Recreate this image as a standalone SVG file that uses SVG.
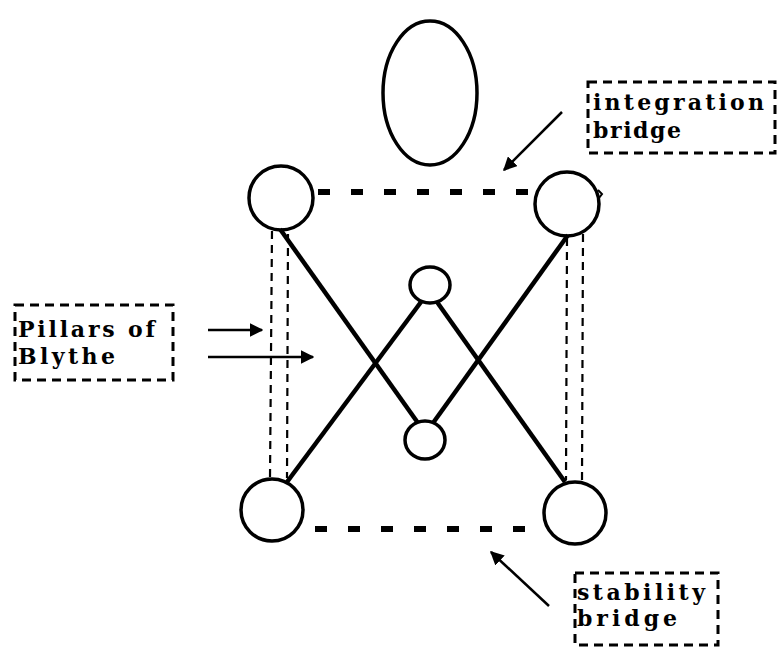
<svg xmlns="http://www.w3.org/2000/svg" width="783" height="649" viewBox="0 0 783 649">
<defs>
<style>
.node{fill:none;stroke:#000;stroke-width:3.5}
.bar{stroke:#000;stroke-width:4.5;fill:none}
.bridge{stroke:#000;stroke-width:6;stroke-dasharray:12 21;fill:none}
.pillar{stroke:#000;stroke-width:2.2;stroke-dasharray:8 6;fill:none}
.box{fill:none;stroke:#000;stroke-width:3;stroke-dasharray:9 6}
.arrow{stroke:#000;stroke-width:2.5;fill:none}
.lbl{font-family:"DejaVu Serif","Liberation Serif",serif;font-size:22px;font-weight:bold;fill:#000}
</style>
<marker id="ah" viewBox="0 0 10 10" refX="9" refY="5" markerWidth="5.5" markerHeight="5.5" markerUnits="strokeWidth" orient="auto">
<path d="M0,0 L10,5 L0,10 z" fill="#000"/>
</marker>
</defs>
<rect width="783" height="649" fill="#fff"/>
<g id="connectors">
<line class="bridge" x1="318" y1="192" x2="532" y2="192"/>
<line class="bridge" x1="315" y1="529" x2="530" y2="529"/>
<line class="pillar" x1="272" y1="231" x2="270" y2="478"/>
<line class="pillar" x1="288" y1="234" x2="287" y2="478"/>
<line class="pillar" x1="567" y1="238" x2="566" y2="480"/>
<line class="pillar" x1="583" y1="234" x2="582" y2="480"/>
<line class="bar" x1="280" y1="229" x2="418" y2="423"/>
<line class="bar" x1="287" y1="482" x2="421" y2="302"/>
<line class="bar" x1="568" y1="235" x2="433" y2="423"/>
<line class="bar" x1="437" y1="302" x2="565" y2="482"/>
<line class="arrow" x1="562" y1="112" x2="504" y2="170" marker-end="url(#ah)"/>
<line class="arrow" x1="549" y1="606" x2="491" y2="552" marker-end="url(#ah)"/>
<line class="arrow" x1="208" y1="330" x2="262" y2="330" marker-end="url(#ah)"/>
<line class="arrow" x1="208" y1="357" x2="313" y2="357" marker-end="url(#ah)"/>
<path d="M598,190 L602,194 L599,198" stroke="#000" stroke-width="2" fill="none"/>
</g>
<g id="head"><ellipse class="node" cx="430" cy="93" rx="47" ry="72"/></g>
<g id="tl"><circle class="node" cx="281" cy="198" r="32"/></g>
<g id="tr"><circle class="node" cx="567" cy="204" r="32"/></g>
<g id="bl"><circle class="node" cx="272" cy="510" r="31"/></g>
<g id="br"><circle class="node" cx="575" cy="513" r="31"/></g>
<g id="top-small"><ellipse class="node" cx="430" cy="285" rx="20" ry="18"/></g>
<g id="bottom-small"><ellipse class="node" cx="425" cy="440" rx="20" ry="19"/></g>
<g id="integration-bridge">
<rect class="box" x="588" y="82" width="187" height="71"/>
<text class="lbl" x="593" y="110" textLength="171" lengthAdjust="spacing">integration</text>
<text class="lbl" x="593" y="138" textLength="88" lengthAdjust="spacing">bridge</text>
</g>
<g id="pillars-of-blythe">
<rect class="box" x="15" y="305" width="158" height="75"/>
<text class="lbl" x="18" y="337" textLength="137" lengthAdjust="spacing">Pillars  of</text>
<text class="lbl" x="18" y="364" textLength="97" lengthAdjust="spacing">Blythe</text>
</g>
<g id="stability-bridge">
<rect class="box" x="575" y="573" width="143" height="72"/>
<text class="lbl" x="577" y="600" textLength="128" lengthAdjust="spacing">stability</text>
<text class="lbl" x="577" y="626" textLength="100" lengthAdjust="spacing">bridge</text>
</g>
</svg>
